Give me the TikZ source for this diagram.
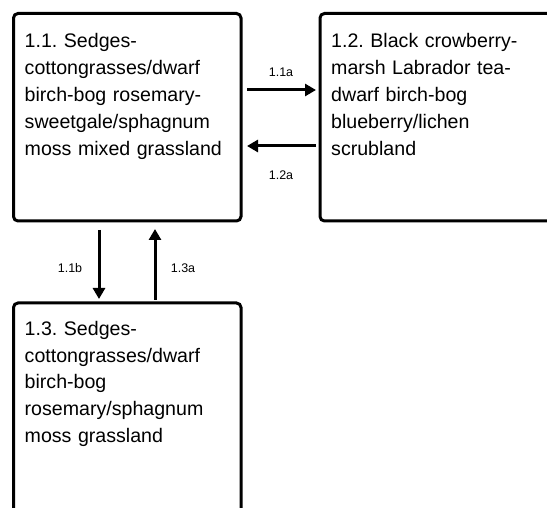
\documentclass[tikz,border=0pt]{standalone}
\usepackage{fontspec}
\setmainfont{Liberation Sans}
\usetikzlibrary{arrows.meta}
\frenchspacing
\tikzset{
  boxnode/.style={draw, line width=3pt, rounded corners=4.5pt, inner sep=0pt, outer sep=0pt},
  boxtext/.style={anchor=base west, inner sep=0pt, text width=215pt, align=left,
                  font=\fontsize{19.6}{27}\selectfont},
  arr/.style={line width=3pt, -{Triangle[length=11pt,width=12pt]}},
  lbl/.style={font=\fontsize{12.5}{14}\selectfont, inner sep=0pt}
}
\begin{document}
\begin{tikzpicture}[x=1pt,y=-1pt]
\useasboundingbox (0,0) rectangle (547,508);
\node[boxnode, minimum width=227.5pt, minimum height=207.5pt] (b11) at (127.25,117.25) {};
\node[boxnode, minimum width=250pt, minimum height=207.5pt] (b12) at (445,117.25) {};
\node[boxnode, minimum width=227.5pt, minimum height=230pt] (b13) at (127.25,418) {};
\node[boxtext] (t11) at (24.5,47.3) {1.1. Sedges-\\cottongrasses/dwarf\\birch-bog rosemary-\\sweetgale/sphagnum\\moss mixed grassland};
\node[boxtext] (t12) at (331,47.3) {1.2. Black crowberry-\\marsh Labrador tea-\\dwarf birch-bog\\blueberry/lichen\\scrubland};
\node[boxtext] (t13) at (24.5,335) {1.3. Sedges-\\cottongrasses/dwarf\\birch-bog\\rosemary/sphagnum\\moss grassland};
\draw[arr, shorten <=6pt, shorten >=4pt] (b11.east |- 0,90) -- (b12.west |- 0,90);
\draw[arr, shorten <=4pt, shorten >=6pt] (b12.west |- 0,146) -- (b11.east |- 0,146);
\draw[arr, shorten <=9pt, shorten >=4pt] (b11.south -| 99,0) -- (b13.north -| 99,0);
\draw[arr, shorten <=3pt, shorten >=8pt] (b13.north -| 155,0) -- (b11.south -| 155,0);
\node[lbl] (l11a) at (281,72) {1.1a};
\node[lbl] (l12a) at (281,175) {1.2a};
\node[lbl] (l11b) at (70,268) {1.1b};
\node[lbl] (l13a) at (183,268) {1.3a};
\end{tikzpicture}
\end{document}
